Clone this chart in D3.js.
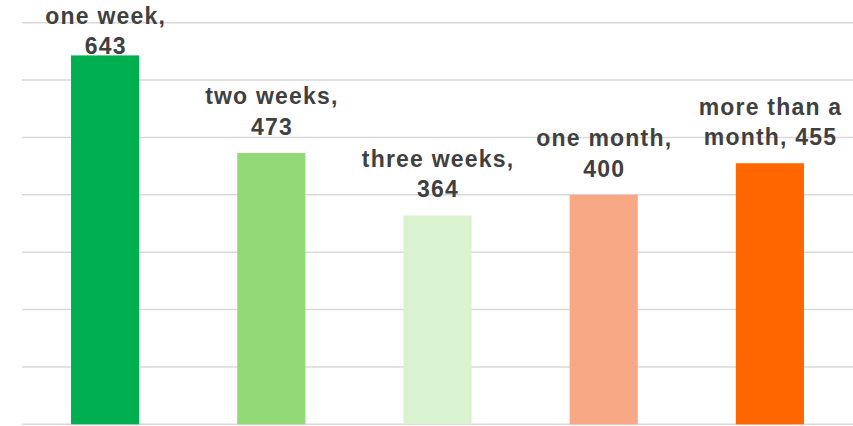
<!DOCTYPE html>
<html>
<head>
<meta charset="utf-8">
<script src="https://cdn.jsdelivr.net/npm/d3@7"></script>
<style>
  html, body { margin: 0; padding: 0; background: #fff; }
  svg { display: block; }
</style>
</head>
<body>
<div id="chart"></div>
<script>
// Daten
const categories = ["one week", "two weeks", "three weeks", "one month", "more than a month"];
const values = [643, 473, 364, 400, 455];
const barColors = ["#00B050", "#92D977", "#D9F2D0", "#F9A886", "#FF6600"];
const wordsFirstLine = [2, 2, 2, 2, 3]; // Umbruch der Beschriftung
const yTicks = [0, 100, 200, 300, 400, 500, 600, 700];

const width = 853, height = 426;
const plot = { left: 22, right: 853, top: 22.7, bottom: 424.3 };

const svg = d3.select("#chart")
    .append("svg")
    .attr("width", width)
    .attr("height", height);

const x = d3.scaleBand()
    .domain(categories)
    .range([plot.left, plot.right])
    .paddingInner(0.59)
    .paddingOuter(0.295);

const y = d3.scaleLinear()
    .domain([0, 700])
    .range([plot.bottom, plot.top]);

// Gitterlinien
svg.append("g")
    .selectAll("line")
    .data(yTicks)
    .join("line")
    .attr("x1", plot.left)
    .attr("x2", plot.right)
    .attr("y1", d => y(d))
    .attr("y2", d => y(d))
    .attr("stroke", "#d9d9d9")
    .attr("stroke-width", 1.4);

// Balken
svg.append("g")
    .selectAll("rect")
    .data(values)
    .join("rect")
    .attr("x", (d, i) => x(categories[i]))
    .attr("y", d => y(d))
    .attr("width", x.bandwidth())
    .attr("height", d => y(0) - y(d))
    .attr("fill", (d, i) => barColors[i]);

// Beschriftungen
const lineGap = 30.5;
const labels = svg.append("g")
    .style("font-family", "'Liberation Sans', Arial, sans-serif")
    .style("font-size", "23px")
    .style("font-weight", "bold")
    .style("letter-spacing", "1.2px")
    .attr("fill", "#404040")
    .attr("text-anchor", "middle");

values.forEach((v, i) => {
    const words = (categories[i] + ", " + v).split(" ");
    const lines = [words.slice(0, wordsFirstLine[i]).join(" "), words.slice(wordsFirstLine[i]).join(" ")];
    const lastBase = Math.max(y(v) - 18, 23.5 + lineGap * (lines.length - 1));
    const cx = x(categories[i]) + x.bandwidth() / 2 + 0.6;
    lines.forEach((t, j) => {
        labels.append("text")
            .attr("x", cx)
            .attr("y", lastBase - lineGap * (lines.length - 1 - j))
            .text(t);
    });
});
</script>
</body>
</html>
